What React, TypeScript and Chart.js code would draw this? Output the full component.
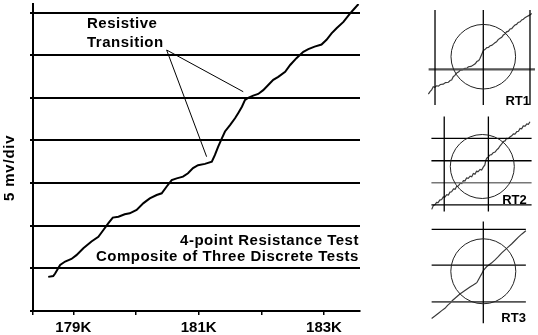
import React, { useEffect, useRef } from 'react';
import { Chart, registerables } from 'chart.js';

Chart.register(...registerables);

const FONT = '"Liberation Sans", Arial, Helvetica, sans-serif';

// ---------- main chart data ----------
const xMin = 178.357;
const xMax = 183.574;
const yMax = 7.2;
const xTickValues = [178.357, 179, 180, 181, 182, 183];
const xTickLabels = ['', '179K', '', '181K', '', '183K'];
const yTickValues = [0, 1, 2, 3, 4, 5, 6, 7];
const yAxisTitle = '5 mv/div';

const sweepK = [
  178.60, 178.68, 178.71, 178.79, 178.87, 178.97, 179.05, 179.16, 179.29, 179.40,
  179.48, 179.56, 179.63, 179.72, 179.82, 179.90, 180.01, 180.12, 180.22, 180.33,
  180.41, 180.49, 180.57, 180.65, 180.75, 180.83, 180.91, 180.99, 181.10, 181.21,
  181.26, 181.31, 181.37, 181.42, 181.50, 181.58, 181.63, 181.69, 181.74, 181.79,
  181.87, 181.95, 182.03, 182.11, 182.19, 182.27, 182.38, 182.46, 182.56, 182.67,
  182.75, 182.85, 182.96, 183.04, 183.12, 183.20, 183.31, 183.41, 183.49, 183.55,
];
const signalDiv = [
  0.80, 0.82, 0.88, 1.08, 1.16, 1.22, 1.31, 1.47, 1.63, 1.74,
  1.90, 2.06, 2.19, 2.21, 2.27, 2.29, 2.37, 2.53, 2.64, 2.72,
  2.76, 2.92, 3.07, 3.11, 3.15, 3.23, 3.35, 3.42, 3.45, 3.50,
  3.66, 3.85, 4.05, 4.21, 4.36, 4.52, 4.64, 4.79, 4.95, 5.00,
  5.05, 5.09, 5.18, 5.30, 5.42, 5.49, 5.61, 5.77, 5.93, 6.08,
  6.14, 6.20, 6.25, 6.36, 6.51, 6.63, 6.78, 6.97, 7.10, 7.20,
];

// callout pointer (end 1 -> origin -> end 2)
const pointerX = [181.711, 180.489, 181.127];
const pointerY = [5.143, 6.121, 3.619];
const calloutLines = ['Resistive', 'Transition'];
const calloutX = 179.218;
const calloutY = [6.63, 6.2];
const noteLines = ['4-point Resistance Test', 'Composite of Three Discrete Tests'];
const noteX = 183.556;
const noteY = [1.548, 1.173];

// ---------- inset data (units of circle radius, centred on circle) ----------
const rt1TraceX = [
  -1.70, -1.65, -1.60, -1.55, -1.50, -1.45, -1.39, -1.33, -1.24, -1.17, -1.08, -1.02, -0.98, -0.93,
  -0.88, -0.82, -0.76, -0.72, -0.65, -0.57, -0.50, -0.46, -0.38, -0.31, -0.25, -0.20, -0.14, -0.10,
  -0.05, 0.00, 0.05, 0.11, 0.16, 0.21, 0.26, 0.31, 0.36, 0.41, 0.46, 0.52, 0.57, 0.62, 0.67, 0.72,
  0.78, 0.83, 0.88, 0.93, 0.98, 1.03, 1.08, 1.14, 1.19, 1.24, 1.29, 1.34, 1.42, 1.50,
];
const rt1TraceY = [
  -1.16, -1.08, -1.03, -0.93, -0.95, -0.90, -0.91, -0.86, -0.85, -0.80, -0.79, -0.73, -0.72, -0.62,
  -0.58, -0.50, -0.47, -0.42, -0.41, -0.36, -0.35, -0.31, -0.30, -0.26, -0.22, -0.15, -0.12, -0.05,
  0.07, 0.19, 0.22, 0.28, 0.29, 0.34, 0.35, 0.39, 0.43, 0.46, 0.53, 0.57, 0.60, 0.67, 0.70, 0.77,
  0.79, 0.86, 0.87, 0.93, 0.98, 1.00, 1.06, 1.08, 1.14, 1.16, 1.21, 1.24, 1.28, 1.34,
];
const rt1VLines = [-1.495, 0, 1.446];
const rt1HLines = [-0.39];

const rt2TraceX = [
  -1.58, -1.53, -1.48, -1.43, -1.38, -1.33, -1.27, -1.22, -1.17, -1.11, -1.06, -1.01, -0.96, -0.90,
  -0.85, -0.80, -0.75, -0.69, -0.64, -0.59, -0.54, -0.49, -0.44, -0.38, -0.33, -0.28, -0.23, -0.18,
  -0.13, -0.07, -0.02, 0.03, 0.08, 0.11, 0.14, 0.19, 0.24, 0.29, 0.34, 0.40, 0.45, 0.50, 0.55, 0.60,
  0.66, 0.71, 0.76, 0.81, 0.87, 0.92, 0.97, 1.02, 1.08, 1.13, 1.18, 1.23, 1.28, 1.34, 1.39, 1.44, 1.49,
];
const rt2TraceY = [
  -1.34, -1.22, -1.20, -1.12, -1.13, -1.05, -1.03, -0.95, -0.96, -0.88, -0.89, -0.80, -0.79, -0.70,
  -0.71, -0.62, -0.61, -0.52, -0.53, -0.44, -0.45, -0.36, -0.37, -0.30, -0.32, -0.22, -0.24, -0.15,
  -0.16, -0.09, -0.11, -0.02, 0.05, 0.20, 0.26, 0.30, 0.36, 0.37, 0.43, 0.45, 0.52, 0.56, 0.64, 0.70,
  0.78, 0.80, 0.88, 0.87, 0.93, 0.96, 1.02, 1.01, 1.09, 1.10, 1.19, 1.18, 1.27, 1.26, 1.33, 1.32, 1.40,
];
const rt2VLines = [-1.19, 0.19];
const rt2HLines = [0.88, 0.18, -0.51, -1.2];

const rt3TraceX = [
  -1.59, -1.48, -1.38, -1.28, -1.18, -1.10, -1.02, -0.95, -0.87, -0.80, -0.72, -0.62, -0.51, -0.41,
  -0.31, -0.25, -0.20, -0.15, -0.10, -0.05, 0.00, 0.05, 0.10, 0.18, 0.26, 0.36, 0.46, 0.56, 0.67,
  0.77, 0.87, 0.97, 1.08, 1.19, 1.31,
];
const rt3TraceY = [
  -1.45, -1.37, -1.29, -1.21, -1.14, -1.05, -0.98, -0.90, -0.83, -0.77, -0.70, -0.63, -0.55, -0.48,
  -0.42, -0.38, -0.35, -0.26, -0.17, -0.08, 0.02, 0.08, 0.14, 0.20, 0.26, 0.35, 0.45, 0.56, 0.66,
  0.75, 0.84, 0.94, 1.05, 1.15, 1.25,
];
const rt3VLines = [0];
const rt3HLines = [1.29, 0.19, -0.94];

type Inset = {
  label: string;
  traceX: number[];
  traceY: number[];
  vLines: number[];
  hLines: number[];
  vSpan: [number, number];
  hSpan: [number, number];
  hColors: string[];
  hWidths: number[];
  xRange: [number, number];
  yRange: [number, number];
  labelAt: [number, number];
  box: { left: number; top: number; width: number; height: number };
};

const insets: Inset[] = [
  {
    label: 'RT1', traceX: rt1TraceX, traceY: rt1TraceY, vLines: rt1VLines, hLines: rt1HLines,
    vSpan: [1.446, -1.495], hSpan: [-1.693, 1.6], hColors: ['#555'], hWidths: [2.2],
    xRange: [-1.805, 1.663], yRange: [-1.588, 1.508], labelAt: [1.446, -1.48],
    box: { left: 425, top: 8, width: 112, height: 100 },
  },
  {
    label: 'RT2', traceX: rt2TraceX, traceY: rt2TraceY, vLines: rt2VLines, hLines: rt2HLines,
    vSpan: [1.56, -1.41], hSpan: [-1.59, 1.54], hColors: ['#000', '#000', '#777', '#000'], hWidths: [1.3, 1.3, 1.6, 1.3],
    xRange: [-1.697, 1.678], yRange: [-1.516, 1.672], labelAt: [1.39, -1.16],
    box: { left: 428, top: 113, width: 108, height: 102 },
  },
  {
    label: 'RT3', traceX: rt3TraceX, traceY: rt3TraceY, vLines: rt3VLines, hLines: rt3HLines,
    vSpan: [1.53, -1.6], hSpan: [-1.59, 1.31], hColors: ['#000', '#000', '#555'], hWidths: [1.3, 1.3, 1.8],
    xRange: [-1.702, 1.622], yRange: [-1.745, 1.64], labelAt: [1.31, -1.56],
    box: { left: 428, top: 218, width: 108, height: 110 },
  },
];

const mainAnnotations = {
  id: 'mainAnnotations',
  afterDatasetsDraw(chart: any) {
    const ctx = chart.ctx;
    const xs = chart.scales.x;
    const ys = chart.scales.y;
    ctx.save();
    ctx.fillStyle = '#000';
    ctx.font = `bold 15px ${FONT}`;
    (ctx as any).letterSpacing = '0.5px';
    ctx.textBaseline = 'alphabetic';
    ctx.textAlign = 'left';
    calloutLines.forEach((t, i) => ctx.fillText(t, xs.getPixelForValue(calloutX), ys.getPixelForValue(calloutY[i])));
    ctx.textAlign = 'right';
    noteLines.forEach((t, i) => ctx.fillText(t, xs.getPixelForValue(noteX), ys.getPixelForValue(noteY[i])));
    ctx.restore();
    ctx.save();
    ctx.fillStyle = '#000';
    ctx.font = `bold 15px ${FONT}`;
    (ctx as any).letterSpacing = '0.8px';
    ctx.translate(ys.left + 10, ys.getPixelForValue(3.36));
    ctx.rotate(-Math.PI / 2);
    ctx.textAlign = 'center';
    ctx.textBaseline = 'middle';
    ctx.fillText(yAxisTitle, 0, 0);
    ctx.restore();
  },
};

function MainChart() {
  const ref = useRef<HTMLCanvasElement | null>(null);
  useEffect(() => {
    if (!ref.current) return;
    const chart = new Chart(ref.current, {
      type: 'scatter',
      data: {
        datasets: [
          {
            data: sweepK.map((x, i) => ({ x, y: signalDiv[i] })),
            showLine: true, borderColor: '#000', borderWidth: 2, pointRadius: 0, tension: 0,
          },
          {
            data: pointerX.map((x, i) => ({ x, y: pointerY[i] })),
            showLine: true, borderColor: '#000', borderWidth: 1, pointRadius: 0, tension: 0,
          },
        ],
      },
      options: {
        responsive: false,
        animation: false,
        devicePixelRatio: 1,
        layout: { padding: { top: 4, right: 10, left: 0, bottom: 0 } },
        plugins: { legend: { display: false }, tooltip: { enabled: false } },
        scales: {
          x: {
            type: 'linear', min: xMin, max: xMax,
            afterBuildTicks: (s: any) => { s.ticks = xTickValues.map((v) => ({ value: v })); },
            afterFit: (s: any) => { s.height = 24; },
            ticks: {
              autoSkip: false, maxRotation: 0, padding: 4, color: '#000',
              font: { family: FONT, size: 15, weight: 'bold' },
              callback: (_v: any, i: number) => xTickLabels[i],
            },
            grid: { drawOnChartArea: false, drawTicks: true, tickLength: 4, color: '#000', lineWidth: 1.5 },
            border: { display: true, color: '#000', width: 2 },
          },
          y: {
            type: 'linear', min: 0, max: yMax,
            afterBuildTicks: (s: any) => { s.ticks = yTickValues.map((v) => ({ value: v })); },
            afterFit: (s: any) => { s.width = 33; },
            ticks: { display: false },
            grid: { drawOnChartArea: true, drawTicks: true, tickLength: 3, color: '#000', lineWidth: 2 },
            border: { display: true, color: '#000', width: 2 },
          },
        },
      } as any,
      plugins: [mainAnnotations],
    });
    return () => chart.destroy();
  }, []);
  return (
    <canvas ref={ref} width={370} height={335} style={{ position: 'absolute', left: 0, top: 0, width: 370, height: 335 }} />
  );
}

function InsetChart({ cfg }: { cfg: Inset }) {
  const ref = useRef<HTMLCanvasElement | null>(null);
  useEffect(() => {
    if (!ref.current) return;
    const datasets: any[] = [];
    cfg.vLines.forEach((v) => {
      datasets.push({
        data: [{ x: v, y: cfg.vSpan[0] }, { x: v, y: cfg.vSpan[1] }],
        showLine: true, borderColor: '#000', borderWidth: 1.3, pointRadius: 0,
      });
    });
    cfg.hLines.forEach((h, i) => {
      datasets.push({
        data: [{ x: cfg.hSpan[0], y: h }, { x: cfg.hSpan[1], y: h }],
        showLine: true, borderColor: cfg.hColors[i], borderWidth: cfg.hWidths[i], pointRadius: 0,
      });
    });
    datasets.push({
      data: cfg.traceX.map((x, i) => ({ x, y: cfg.traceY[i] })),
      showLine: true, borderColor: '#3a3a3a', borderWidth: 1.2, pointRadius: 0, tension: 0,
    });
    const graticule = {
      id: 'graticule',
      afterDatasetsDraw(chart: any) {
        const ctx = chart.ctx;
        const xs = chart.scales.x;
        const ys = chart.scales.y;
        const cx = xs.getPixelForValue(0);
        const cy = ys.getPixelForValue(0);
        const r = xs.getPixelForValue(1) - cx;
        ctx.save();
        ctx.strokeStyle = '#222';
        ctx.lineWidth = 1;
        ctx.beginPath();
        ctx.arc(cx, cy, r, 0, Math.PI * 2);
        ctx.stroke();
        ctx.fillStyle = '#000';
        ctx.font = `bold 13px ${FONT}`;
        ctx.textAlign = 'right';
        ctx.textBaseline = 'alphabetic';
        ctx.fillText(cfg.label, xs.getPixelForValue(cfg.labelAt[0]), ys.getPixelForValue(cfg.labelAt[1]));
        ctx.restore();
      },
    };
    const chart = new Chart(ref.current, {
      type: 'scatter',
      data: { datasets },
      options: {
        responsive: false,
        animation: false,
        devicePixelRatio: 1,
        layout: { padding: 0 },
        plugins: { legend: { display: false }, tooltip: { enabled: false } },
        scales: {
          x: { type: 'linear', min: cfg.xRange[0], max: cfg.xRange[1], display: false },
          y: { type: 'linear', min: cfg.yRange[0], max: cfg.yRange[1], display: false },
        },
      } as any,
      plugins: [graticule],
    });
    return () => chart.destroy();
  }, [cfg]);
  const b = cfg.box;
  return (
    <canvas ref={ref} width={b.width} height={b.height}
      style={{ position: 'absolute', left: b.left, top: b.top, width: b.width, height: b.height }} />
  );
}

export default function App() {
  return (
    <div style={{ position: 'absolute', left: 0, top: 0, width: 538, height: 335, background: '#fff', overflow: 'hidden' }}>
      <MainChart />
      {insets.map((c) => <InsetChart key={c.label} cfg={c} />)}
    </div>
  );
}
